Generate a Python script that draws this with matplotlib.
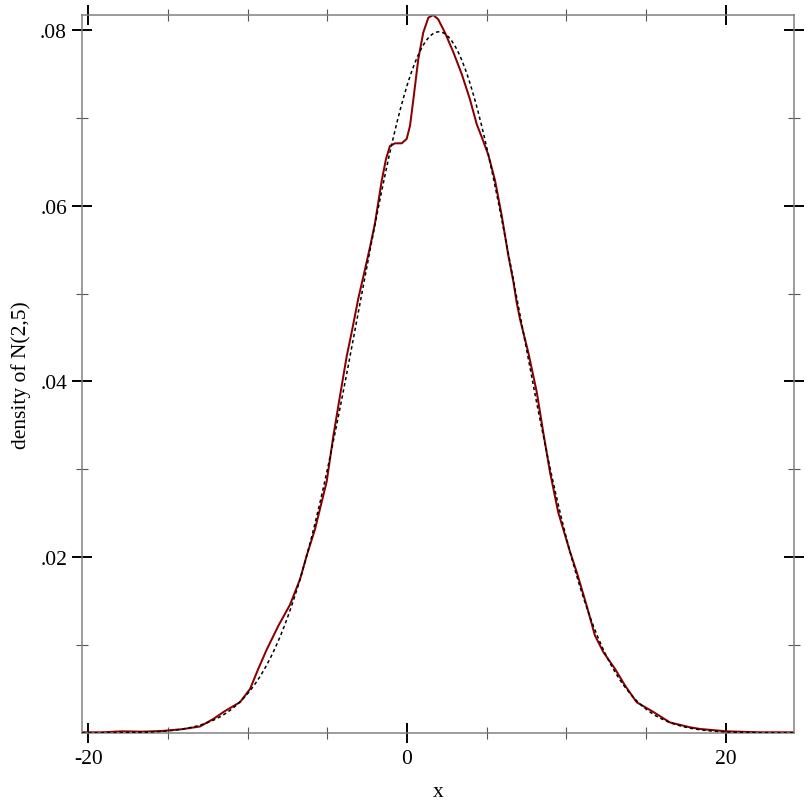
import numpy as np
import matplotlib
matplotlib.use("Agg")
import matplotlib.pyplot as plt
from matplotlib.ticker import FixedLocator

# ---- data ----
# kernel density estimate of samples
kde_x = [-20.39, -19.13, -17.88, -16.62, -15.37, -14.12, -12.99, -12.15, -11.42, -10.48,
         -9.85, -9.33, -8.80, -8.07, -7.34, -6.71, -6.29, -5.77, -5.04, -4.62,
         -4.20, -3.78, -3.47, -3.06, -2.63, -2.32, -2.01, -1.59, -1.32, -1.07, -0.75,
         -0.33, -0.02, 0.19, 0.40, 0.71, 1.02, 1.34, 1.65, 1.96, 2.38,
         2.90, 3.43, 3.95, 4.37, 4.69, 5.10, 5.52, 5.94, 6.36, 6.67,
         6.88, 7.09, 7.61, 8.14, 8.55, 8.97, 9.49, 10.23, 10.65, 11.27,
         11.79, 12.32, 13.05, 13.68, 14.41, 15.45, 16.50, 17.75, 18.38, 20.06,
         22.15, 24.28]
kde_y = [0.00008, 0.00008, 0.00019, 0.00015, 0.00023, 0.00043, 0.00074, 0.0016, 0.0025, 0.0035,
         0.0050, 0.0073, 0.0095, 0.0122, 0.0146, 0.0175, 0.0202, 0.0232, 0.0286, 0.0338,
         0.0384, 0.0429, 0.0456, 0.0494, 0.0528, 0.0553, 0.0580, 0.0628, 0.0653, 0.0668, 0.0671,
         0.0671, 0.0676, 0.0691, 0.0721, 0.0767, 0.0797, 0.0814, 0.0817, 0.0812, 0.0797,
         0.0775, 0.0750, 0.0721, 0.0693, 0.0678, 0.0658, 0.0629, 0.0589, 0.0543, 0.0514,
         0.0490, 0.0471, 0.0433, 0.0388, 0.0342, 0.0297, 0.0251, 0.0206, 0.0183, 0.0145,
         0.0111, 0.0092, 0.0073, 0.0054, 0.0035, 0.0024, 0.0012, 0.00065, 0.00046, 0.00019,
         0.00008, 0.00008]

# reference normal distribution N(mu, sigma)
mu = 2.0
sigma = 5.0

x_major = [-20, 0, 20]
x_major_labels = ["-20", "0", "20"]
x_minor = [-15, -10, -5, 5, 10, 15]
y_major = [0.02, 0.04, 0.06, 0.08]
y_major_labels = [".02", ".04", ".06", ".08"]
y_minor = [0.01, 0.03, 0.05, 0.07]

x_label = "x"
y_label = "density of N(2,5)"

# ---- plot ----
plt.rcParams['font.family'] = ['Liberation Serif', 'DejaVu Serif']
fig = plt.figure(figsize=(8.12, 8.12), dpi=100)
ax = fig.add_axes([82/812, 1-734/812, (794-82)/812, (734-16)/812])

xmin, xmax = -20.39, 24.28
ax.set_xlim(xmin, xmax)
ax.set_ylim(0, max(kde_y))

ax.plot(kde_x, kde_y, color='#8b0000', lw=1.45, zorder=2,
        solid_capstyle='round', solid_joinstyle='round')
xs = np.linspace(xmin, xmax, 600)
pdf = np.exp(-0.5 * ((xs - mu) / sigma) ** 2) / (sigma * np.sqrt(2 * np.pi))
ax.plot(xs, pdf, color='black', lw=1.1, linestyle=(0, (2.2, 1.9)), zorder=3)

for s in ax.spines.values():
    s.set_color('#808080')
    s.set_linewidth(1.1)

ax.xaxis.set_major_locator(FixedLocator(x_major))
ax.set_xticklabels(x_major_labels)
ax.xaxis.set_minor_locator(FixedLocator(x_minor))
ax.yaxis.set_major_locator(FixedLocator(y_major))
ax.set_yticklabels(y_major_labels)
ax.yaxis.set_minor_locator(FixedLocator(y_minor))

ax.tick_params(which='major', direction='inout', length=14.5, width=1.4, color='black',
               labelsize=15.5, pad=3.5, top=True, right=True)
ax.tick_params(which='minor', direction='inout', length=8, width=0.8, color='#555555',
               top=True, right=True)
ax.tick_params(axis='x', which='major', pad=4.5)

ax.set_xlabel(x_label, fontsize=15.5, labelpad=10)
ax.set_ylabel(y_label, fontsize=15.5, labelpad=6.5)

fig.savefig("out.png", dpi=100)
